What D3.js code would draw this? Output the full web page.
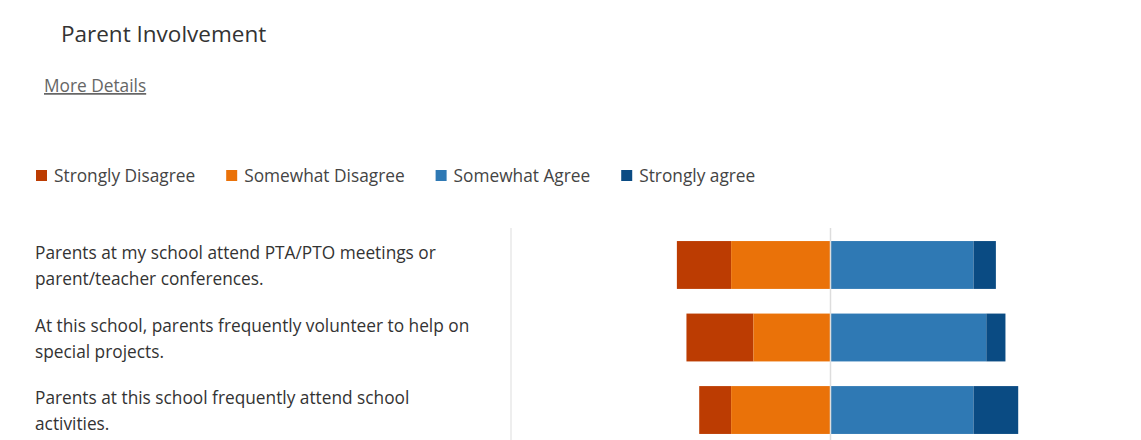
<!DOCTYPE html>
<html>
<head>
<meta charset="utf-8">
<script src="https://cdn.jsdelivr.net/npm/d3@7"></script>
<style>
  html, body { margin: 0; padding: 0; background: #fff; }
  svg { display: block; }
  text { font-family: "Open Sans", "Noto Sans", sans-serif; }
</style>
</head>
<body>
<svg id="chart" width="1141" height="440"></svg>
<script>
// Survey statements (line breaks mark where each label wraps)
const questions = [
  "Parents at my school attend PTA/PTO meetings or\nparent/teacher conferences.",
  "At this school, parents frequently volunteer to help on\nspecial projects.",
  "Parents at this school frequently attend school\nactivities."
];

// Response categories, in stacking order from far left to far right
const responses = ["Strongly Disagree", "Somewhat Disagree", "Somewhat Agree", "Strongly agree"];
const colors = ["#bc3c02", "#ea7209", "#2f79b4", "#0a4b83"];

// Percent of respondents per statement
const stronglyDisagree = [17, 21, 10];
const somewhatDisagree = [31, 24, 31];
const somewhatAgree    = [45, 49, 45];
const stronglyAgree    = [7, 6, 14];

const xTicks = [-100, 0, 100];

const svg = d3.select("#chart");
const W = 1141, H = 440;
const bodySize = 17.3;

// Header
svg.append("text")
  .attr("x", 61).attr("y", 42)
  .attr("font-size", 22.5).attr("fill", "#333")
  .text("Parent Involvement");

svg.append("text")
  .attr("x", 44).attr("y", 92)
  .attr("font-size", bodySize).attr("fill", "#666")
  .attr("text-decoration", "underline")
  .text("More Details");

// Legend
const legend = svg.append("g").attr("transform", "translate(36,170)");
let lx = 0;
responses.forEach((name, i) => {
  const item = legend.append("g").attr("transform", `translate(${lx},0)`);
  item.append("rect").attr("width", 11).attr("height", 11).attr("fill", colors[i]);
  const t = item.append("text")
    .attr("x", 18).attr("y", 12)
    .attr("font-size", bodySize).attr("fill", "#444")
    .text(name);
  lx += 18 + t.node().getComputedTextLength() + 31;
});

// Scales
const x = d3.scaleLinear().domain([xTicks[0], xTicks[2]]).range([511, 1149]);
const y = d3.scaleBand()
  .domain(questions)
  .range([228, 447])
  .paddingInner(0.34)
  .paddingOuter(0.18);

// Divider between labels and plot
svg.append("line")
  .attr("x1", x(xTicks[0])).attr("x2", x(xTicks[0]))
  .attr("y1", 228).attr("y2", H)
  .attr("stroke", "#e8e8e8").attr("stroke-width", 1.5);

// Stacked segments: disagree grows left of zero, agree grows right
const rows = questions.map((q, i) => {
  const vals = [stronglyDisagree[i], somewhatDisagree[i], somewhatAgree[i], stronglyAgree[i]];
  let start = -(vals[0] + vals[1]);
  return vals.map((v, k) => {
    const seg = { q, k, x0: start, x1: start + v };
    start += v;
    return seg;
  });
});

svg.append("g")
  .selectAll("g")
  .data(rows)
  .join("g")
  .selectAll("rect")
  .data(d => d)
  .join("rect")
  .attr("x", d => x(d.x0))
  .attr("width", d => x(d.x1) - x(d.x0))
  .attr("y", d => y(d.q))
  .attr("height", y.bandwidth())
  .attr("fill", d => colors[d.k]);

// Neutral midline
svg.append("line")
  .attr("x1", x(xTicks[1]) + 0.5).attr("x2", x(xTicks[1]) + 0.5)
  .attr("y1", 228).attr("y2", H)
  .attr("stroke", "#dddddd").attr("stroke-width", 1.5);

// Statement labels
const labels = svg.append("g");
questions.forEach(q => {
  const lines = q.split("\n");
  const cy = y(q) + y.bandwidth() / 2 + 2;
  const t = labels.append("text")
    .attr("x", 35)
    .attr("font-size", bodySize).attr("fill", "#333")
    .attr("dominant-baseline", "middle");
  lines.forEach((line, j) => {
    t.append("tspan")
      .attr("x", 35)
      .attr("y", cy + (j - (lines.length - 1) / 2) * 26)
      .text(line);
  });
});
</script>
</body>
</html>
